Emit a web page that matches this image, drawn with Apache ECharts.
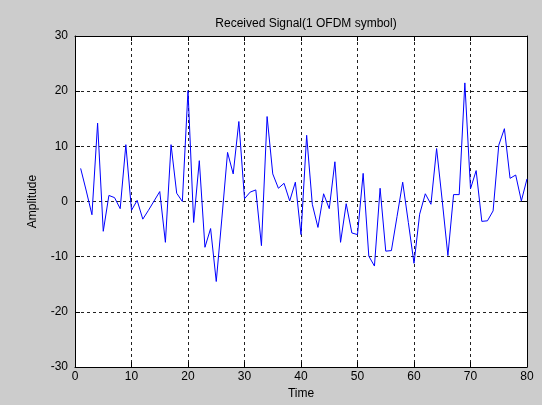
<!DOCTYPE html>
<html>
<head>
<meta charset="utf-8">
<script src="https://cdn.jsdelivr.net/npm/echarts@6/dist/echarts.min.js"></script>
<style>
html,body{margin:0;padding:0;background:#cccccc;}
#chart{width:542px;height:405px;}
</style>
</head>
<body>
<div id="chart"></div>
<script>
// samples 1..80
var timeIdx = [];
for (var t = 1; t <= 80; t++) timeIdx.push(t);
var amplitude = [
    6.0, 1.9, -2.4, 14.2, -5.4, 1.1, 0.7, -1.3, 10.3, -1.6,
    0.2, -3.2, -1.6, 0.1, 1.8, -7.4, 10.3, 1.5, 0.0, 20.1,
    -3.8, 7.4, -8.3, -4.9, -14.5, -3.0, 8.9, 5.0, 14.5, 0.5,
    1.7, 2.1, -8.0, 15.4, 5.0, 2.4, 3.3, 0.1, 3.5, -6.0,
    12.0, -0.5, -4.7, 1.4, -1.3, 7.2, -7.4, -0.4, -5.7, -6.0,
    5.1, -9.9, -11.7, 2.4, -9.0, -8.9, -2.7, 3.5, -3.8, -11.2,
    -2.3, 1.4, -0.5, 9.6, 0.1, -9.8, 1.25, 1.25, 21.5, 2.3,
    5.6, -3.6, -3.5, -1.7, 10.2, 13.2, 4.2, 4.8, 0.1, 4.1
];
var xTicks = [0, 80, 10];   // min, max, step
var yTicks = [-30, 30, 10];

var points = [];
for (var i = 0; i < timeIdx.length; i++) {
    points.push([timeIdx[i], amplitude[i]]);
}

var font = 'Liberation Sans, Arial, sans-serif';
var gridLine = {show: true, lineStyle: {color: '#222', width: 1, type: [3, 3]}};
var axisLine = {show: true, onZero: false, lineStyle: {color: '#000', width: 1}};
var ticks = {show: true, inside: true, length: 5, lineStyle: {color: '#000'}};

var myChart = echarts.init(document.getElementById('chart'));
var option = {
    backgroundColor: '#cccccc',
    animation: false,
    title: {
        text: 'Received Signal(1 OFDM symbol)',
        left: 301,
        top: 13,
        textAlign: 'center',
        textStyle: {fontFamily: font, fontSize: 12, fontWeight: 'normal', color: '#000'}
    },
    grid: {left: 75, right: 15, top: 36, bottom: 33, backgroundColor: '#fff', show: true, borderWidth: 0},
    xAxis: [{
        type: 'value',
        min: xTicks[0], max: xTicks[1], interval: xTicks[2],
        name: 'Time',
        nameLocation: 'middle',
        nameGap: 21,
        nameTextStyle: {fontFamily: font, fontSize: 12, color: '#000'},
        axisLine: axisLine,
        axisTick: ticks,
        axisLabel: {fontFamily: font, fontSize: 12, color: '#000', margin: 4},
        splitLine: gridLine
    }, {
        type: 'value',
        position: 'top',
        min: xTicks[0], max: xTicks[1], interval: xTicks[2],
        axisLine: axisLine,
        axisTick: ticks,
        axisLabel: {show: false},
        splitLine: {show: false}
    }],
    yAxis: [{
        type: 'value',
        min: yTicks[0], max: yTicks[1], interval: yTicks[2],
        name: 'Amplitude',
        nameLocation: 'middle',
        nameGap: 36,
        nameTextStyle: {fontFamily: font, fontSize: 12, color: '#000'},
        axisLine: axisLine,
        axisTick: ticks,
        axisLabel: {fontFamily: font, fontSize: 12, color: '#000', margin: 7},
        splitLine: gridLine
    }, {
        type: 'value',
        position: 'right',
        min: yTicks[0], max: yTicks[1], interval: yTicks[2],
        axisLine: axisLine,
        axisTick: ticks,
        axisLabel: {show: false},
        splitLine: {show: false}
    }],
    series: [{
        type: 'line',
        data: points,
        showSymbol: false,
        lineStyle: {color: '#0000ff', width: 1},
        itemStyle: {color: '#0000ff'}
    }]
};
myChart.setOption(option);
</script>
</body>
</html>
